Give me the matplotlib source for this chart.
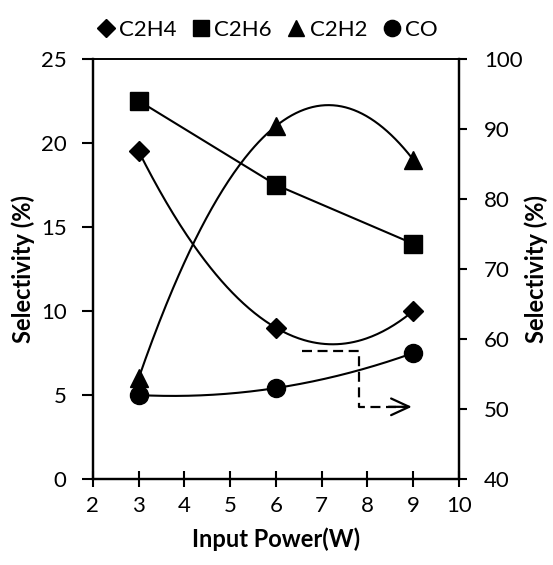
import numpy as np
import matplotlib
matplotlib.use("Agg")
import matplotlib.pyplot as plt

plt.rcParams['font.family'] = ['Lato', 'DejaVu Sans']

power = [3, 6, 9]
c2h4 = [19.5, 9.0, 10.0]
c2h6 = [22.5, 17.5, 14.0]
c2h2 = [6.0, 21.0, 19.0]
co = [52.0, 53.0, 58.0]  # right axis

fig = plt.figure(figsize=(5.53, 5.65), dpi=100)
ax = fig.add_axes([0.168, 0.152, 0.662, 0.744])
ax2 = ax.twinx()

xs = np.linspace(3, 9, 200)


def trend(x, y):
    # second order trendline through the points
    return np.polyval(np.polyfit(x, y, 2), xs)


lw = 1.5
ax.plot(xs, trend(power, c2h4), color='black', lw=lw)
ax.plot(power, c2h6, color='black', lw=lw)
ax.plot(xs, trend(power, c2h2), color='black', lw=lw)
ax2.plot(xs, trend(power, co), color='black', lw=lw)

h1, = ax.plot(power, c2h4, 'D', color='black', ms=10, ls='none', label='C2H4')
h2, = ax.plot(power, c2h6, 's', color='black', ms=13, ls='none', label='C2H6')
h3, = ax.plot(power, c2h2, '^', color='black', ms=13, ls='none', label='C2H2')
h4, = ax2.plot(power, co, 'o', color='black', ms=13, ls='none', label='CO')

# dashed arrow pointing to the right axis
ax.plot([6.57, 7.81, 7.81, 8.85], [7.6, 7.6, 4.3, 4.3], color='black', lw=1.6, ls=(0, (4.5, 2.5)))
ax.annotate('', xy=(9.03, 4.3), xytext=(8.4, 4.3),
            arrowprops=dict(arrowstyle='->,head_length=1.3,head_width=0.6', color='black', lw=1.6))

ax.set_xlim(2, 10)
ax.set_ylim(0, 25)
ax2.set_ylim(40, 100)
ax.set_xticks(range(2, 11))
ax.set_yticks(range(0, 26, 5))
ax2.set_yticks(range(40, 101, 10))

ax.tick_params(axis='x', direction='inout', length=11, width=1.5, labelsize=16, pad=7)
ax.tick_params(axis='y', direction='out', length=8, width=1.5, labelsize=16, pad=11)
ax2.tick_params(axis='y', direction='out', length=6, width=1.5, labelsize=16, pad=12)
for a in (ax, ax2):
    for s in a.spines.values():
        s.set_linewidth(1.6)
ax.spines['top'].set_linewidth(1.2)
ax2.spines['top'].set_linewidth(1.2)

ax.set_xlabel('Input Power(W)', fontsize=17, fontweight='bold', labelpad=8)
ax.set_ylabel('Selectivity (%)', fontsize=17, fontweight='bold', labelpad=4)
ax2.set_ylabel('Selectivity (%)', fontsize=17, fontweight='bold', labelpad=1)

fig.legend(handles=[h1, h2, h3, h4], loc='upper center', bbox_to_anchor=(0.485, 1.0),
           ncol=4, frameon=False, fontsize=16, handlelength=0.6, handletextpad=0.3,
           columnspacing=0.8, markerscale=0.9)

fig.savefig('out.png', dpi=100)
